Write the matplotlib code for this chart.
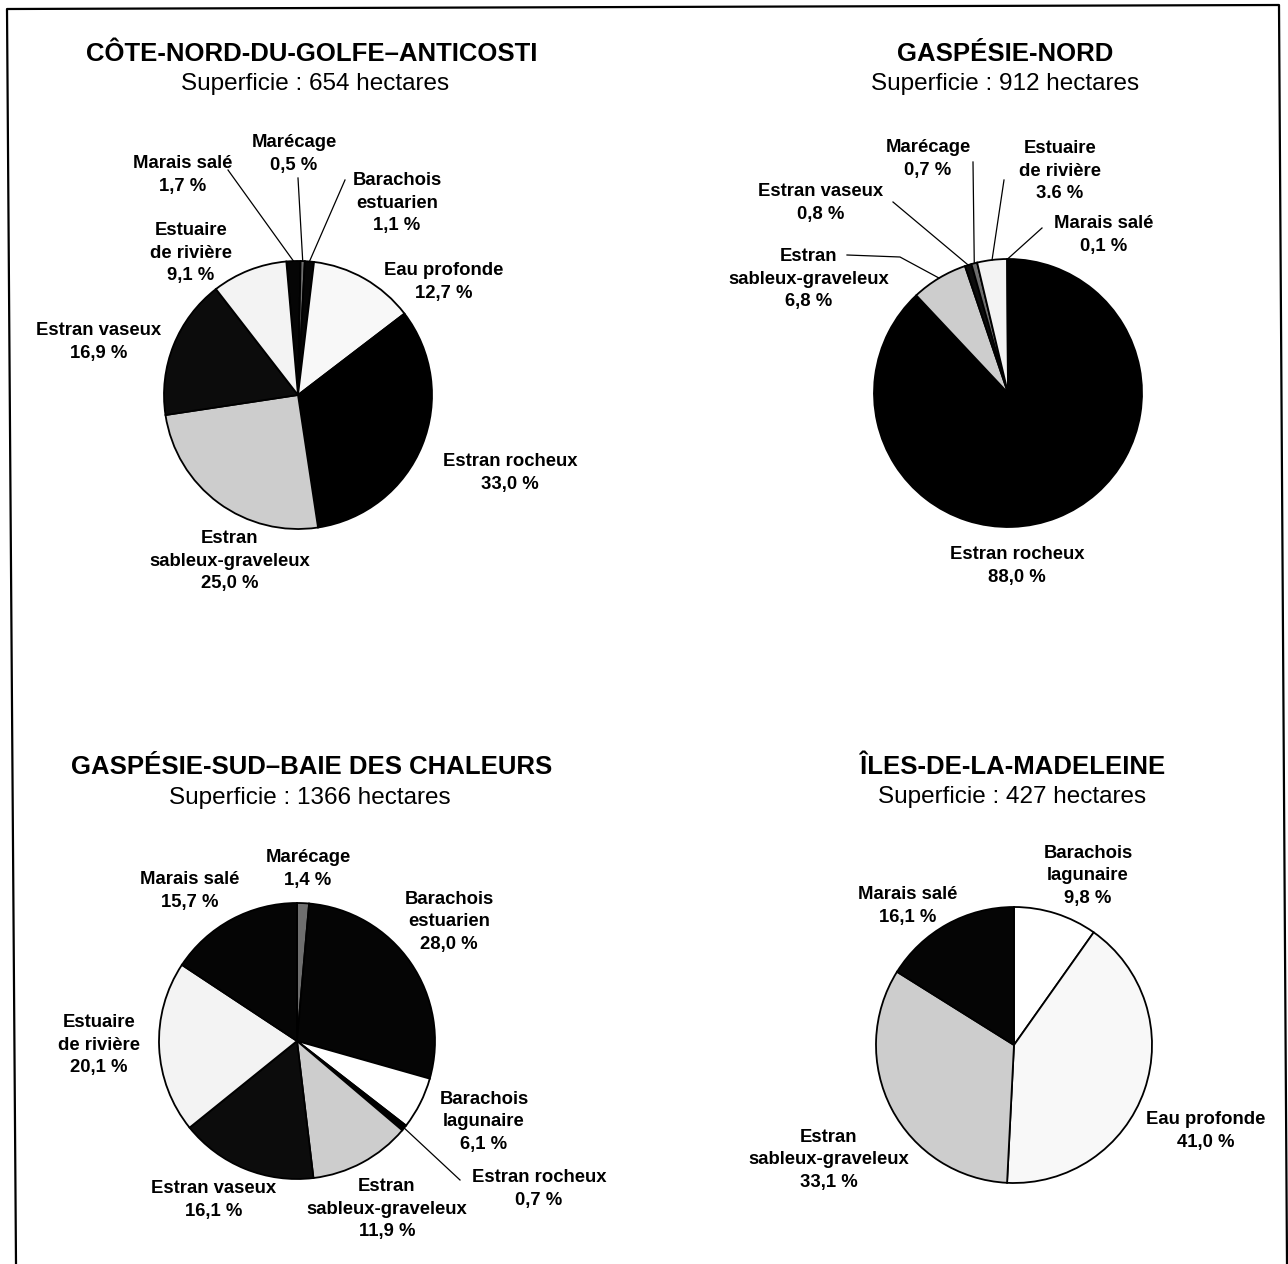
import numpy as np
import matplotlib.pyplot as plt

plt.rcParams["font.family"] = ["Liberation Sans", "DejaVu Sans"]

W, H = 1288, 1264

# ---- data ----
titles = [
    "CÔTE-NORD-DU-GOLFE–ANTICOSTI",
    "GASPÉSIE-NORD",
    "GASPÉSIE-SUD–BAIE DES CHALEURS",
    "ÎLES-DE-LA-MADELEINE",
]
areas = [654, 912, 1366, 427]

cn_cats = ["Marais salé", "Marécage", "Barachois estuarien", "Eau profonde",
           "Estran rocheux", "Estran sableux-graveleux", "Estran vaseux",
           "Estuaire de rivière"]
cn_vals = [1.7, 0.5, 1.1, 12.7, 33.0, 25.0, 16.9, 9.1]

gn_cats = ["Estran rocheux", "Estran sableux-graveleux", "Estran vaseux",
           "Marécage", "Estuaire de rivière", "Marais salé"]
gn_vals = [88.0, 6.8, 0.8, 0.7, 3.6, 0.1]

gs_cats = ["Marécage", "Barachois estuarien", "Barachois lagunaire",
           "Estran rocheux", "Estran sableux-graveleux", "Estran vaseux",
           "Estuaire de rivière", "Marais salé"]
gs_vals = [1.4, 28.0, 6.1, 0.7, 11.9, 16.1, 20.1, 15.7]

im_cats = ["Barachois lagunaire", "Eau profonde", "Estran sableux-graveleux",
           "Marais salé"]
im_vals = [9.8, 41.0, 33.1, 16.1]

# the source prints this one value with a point
point_decimal = {(1, "Estuaire de rivière")}

# ---- style ----
names = {
    "Marais salé": "Marais salé",
    "Marécage": "Marécage",
    "Barachois estuarien": "Barachois\nestuarien",
    "Barachois lagunaire": "Barachois\nlagunaire",
    "Eau profonde": "Eau profonde",
    "Estran rocheux": "Estran rocheux",
    "Estran sableux-graveleux": "Estran\nsableux-graveleux",
    "Estran vaseux": "Estran vaseux",
    "Estuaire de rivière": "Estuaire\nde rivière",
}
colors = {
    "Marais salé": "#050505",
    "Marécage": "#6e6e6e",
    "Barachois estuarien": "#050505",
    "Barachois lagunaire": "#ffffff",
    "Eau profonde": "#f8f8f8",
    "Estran rocheux": "#000000",
    "Estran sableux-graveleux": "#cdcdcd",
    "Estran vaseux": "#0c0c0c",
    "Estuaire de rivière": "#f3f3f3",
}

# layout in pixel coordinates (y from top)
layout = [
    dict(center=(298, 395), r=134, start=95, title=(312, 54), sub=(315, 84),
         labels={"Marais salé": (183, 175), "Marécage": (294, 154),
                 "Barachois estuarien": (397, 203), "Estuaire de rivière": (191, 253),
                 "Eau profonde": (444, 282), "Estran vaseux": (99, 342),
                 "Estran rocheux": (510, 473), "Estran sableux-graveleux": (230, 561)},
         leaders={"Marais salé": [(228, 170)], "Marécage": [(298, 178)],
                  "Barachois estuarien": [(345, 180)]}),
    dict(center=(1008, 393), r=134, start=90, title=(1005, 54), sub=(1005, 84),
         labels={"Marécage": (928, 159), "Estuaire de rivière": (1060, 171),
                 "Estran vaseux": (821, 203), "Marais salé": (1104, 235),
                 "Estran sableux-graveleux": (809, 279), "Estran rocheux": (1017, 566)},
         leaders={"Estran vaseux": [(893, 202)], "Marécage": [(973, 162)],
                  "Estuaire de rivière": [(1004, 180)], "Marais salé": [(1042, 228)],
                  "Estran sableux-graveleux": [(900, 257), (847, 255)]}),
    dict(center=(297, 1041), r=138, start=90, title=(312, 767), sub=(310, 798),
         labels={"Marécage": (308, 869), "Marais salé": (190, 891),
                 "Barachois estuarien": (449, 922), "Estuaire de rivière": (99, 1045),
                 "Barachois lagunaire": (484, 1122), "Estran rocheux": (539, 1189),
                 "Estran vaseux": (214, 1200), "Estran sableux-graveleux": (387, 1209)},
         leaders={"Estran rocheux": [(460, 1180)]}),
    dict(center=(1014, 1045), r=138, start=90, title=(1013, 767), sub=(1012, 797),
         labels={"Barachois lagunaire": (1088, 876), "Marais salé": (908, 906),
                 "Eau profonde": (1206, 1131), "Estran sableux-graveleux": (829, 1160)},
         leaders={}),
]

datasets = [(cn_cats, cn_vals), (gn_cats, gn_vals), (gs_cats, gs_vals), (im_cats, im_vals)]


def P(x, y):
    return x, H - y


fig = plt.figure(figsize=(W / 100, H / 100), dpi=100)
ax = fig.add_axes([0, 0, 1, 1])

for i, ((cats, vals), lay) in enumerate(zip(datasets, layout)):
    cx, cy = P(*lay["center"])
    r = lay["r"]
    wedges, _ = ax.pie(
        vals,
        colors=[colors[c] for c in cats],
        startangle=lay["start"],
        counterclock=False,
        center=(cx, cy),
        radius=r,
        wedgeprops=dict(edgecolor="black", linewidth=1.3),
    )

    for c, v in zip(cats, vals):
        txt = f"{v:.1f}"
        if (i, c) not in point_decimal:
            txt = txt.replace(".", ",")
        lx, ly = P(*lay["labels"][c])
        ax.text(lx, ly, f"{names[c]}\n{txt} %", ha="center", va="center",
                fontsize=13.3, fontweight="bold", linespacing=1.4)

    for c, pts in lay["leaders"].items():
        w = wedges[cats.index(c)]
        mid = np.deg2rad((w.theta1 + w.theta2) / 2)
        xs = [cx + r * np.cos(mid)] + [P(*p)[0] for p in pts]
        ys = [cy + r * np.sin(mid)] + [P(*p)[1] for p in pts]
        ax.plot(xs, ys, color="black", lw=0.9)

    tx, ty = P(*lay["title"])
    ax.text(tx, ty, titles[i], ha="center", va="center", fontsize=18.5,
            fontweight="bold")
    sx, sy = P(*lay["sub"])
    ax.text(sx, sy, f"Superficie : {areas[i]} hectares", ha="center",
            va="center", fontsize=17.5)

# page frame (scan is slightly tilted)
fx = [16, 7, 1279, 1287]
fy = [1264, 9, 5, 1264]
ax.plot([P(x, y)[0] for x, y in zip(fx, fy)], [P(x, y)[1] for x, y in zip(fx, fy)],
        color="black", lw=1.6)

ax.set_xlim(0, W)
ax.set_ylim(0, H)
ax.set_aspect("equal")
ax.axis("off")

fig.savefig("out.png", dpi=100)
